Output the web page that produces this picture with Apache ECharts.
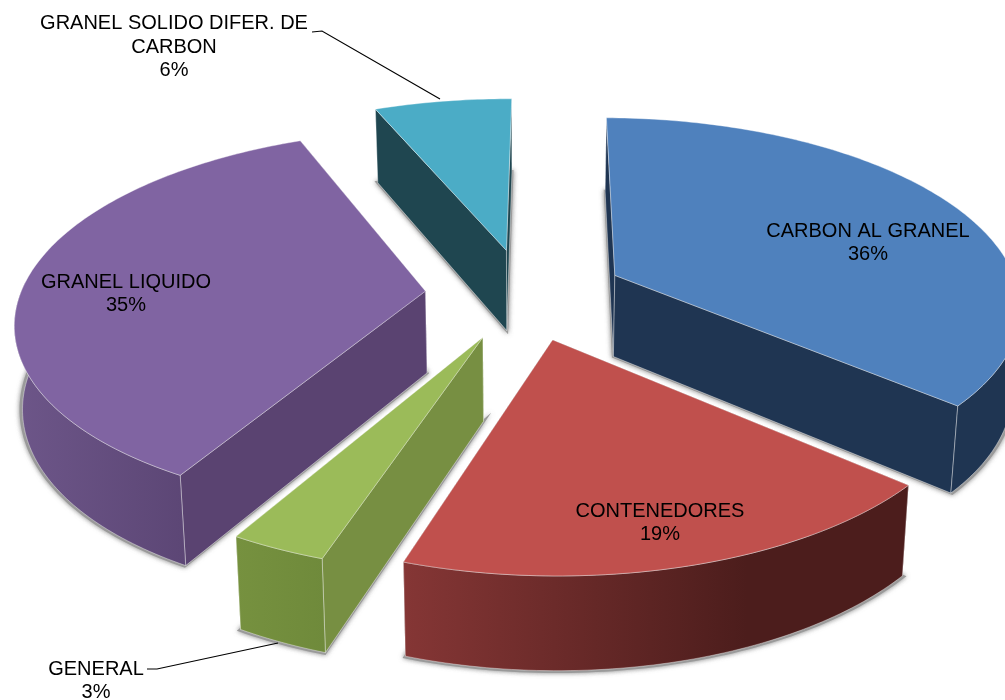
<!DOCTYPE html>
<html>
<head>
<meta charset="utf-8">
<style>
  html, body { margin: 0; padding: 0; background: #fff; }
  #chart { width: 1005px; height: 700px; }
</style>
<script src="https://cdn.jsdelivr.net/npm/echarts@6/dist/echarts.min.js"></script>
</head>
<body>
<div id="chart"></div>
<script>
const categories = ['CARBON AL GRANEL', 'CONTENEDORES', 'GENERAL', 'GRANEL LIQUIDO', 'GRANEL SOLIDO DIFER. DE\nCARBON']
const values = [36, 18.6, 3.2, 35.2, 6.4]

const topColors = ['#4f81bd', '#c0504d', '#9bbb59', '#8064a2', '#4bacc6']
const sideColors = ['#1f3552', '#4d1e1d', '#778f42', '#5a4371', '#1f4650']
const outerStops = [
  ['#1f3552', '#1f3552'],
  ['#853635', '#4c1d1c'],
  ['#76913f', '#6f8a3b'],
  ['#6d5689', '#5c4675'],
  ['#1f4650', '#1f4650']
]
const labelCenters = [[868, 243], [660, 523], [96, 681], [126, 294], [174, 47]]
const leaders = [null, null, [[147, 669], [157, 669], [278, 643]], null, [[312, 32], [322, 31], [440, 99]]]

// fake 3d view: flat circle seen in perspective, every slice pulled out along its mid angle
const cx = 525
const cy = 294
const radiusX = 405
const radiusY = 186
const persp = 0.148
const explode = 0.247
const depth = 82
const startAngle = -89.5
const drawOrder = [4, 0, 3, 1, 2]

const total = values.reduce((a, b) => a + b, 0)
const toRad = d => d * Math.PI / 180

const project = (x, y, h, grow) => {
  const s = 1 / (1 - persp * y)
  const shrink = 1 - 0.016 * h
  const g = grow || 1
  return [
    cx + radiusX * x * s * shrink * g,
    cy + radiusY * y * s * (1 - 0.02 * h) * g + depth * h * s
  ]
}

const sliceAngles = index => {
  let from = startAngle
  for (let i = 0; i < index; i++) from += values[i] / total * 360
  return [from, from + values[index] / total * 360]
}

const renderSlice = (params, api) => {
  const index = api.value(0)
  const [from, to] = sliceAngles(index)
  const mid = toRad((from + to) / 2)
  const ox = explode * Math.cos(mid)
  const oy = explode * Math.sin(mid)

  const arcAngles = []
  const steps = Math.max(4, Math.ceil(to - from))
  for (let i = 0; i <= steps; i++) arcAngles.push(toRad(from + (to - from) * i / steps))
  const arc = (h, grow) => arcAngles.map(t => project(ox + Math.cos(t), oy + Math.sin(t), h, grow))

  const apexTop = project(ox, oy, 0)
  const apexBottom = project(ox, oy, 1)
  const topArc = arc(0)
  const bottomArc = arc(1)
  const edge = { stroke: 'rgba(255,255,255,0.55)', lineWidth: 0.7, lineJoin: 'round' }
  const children = []

  // soft shadow under the slice
  children.push({
    type: 'polygon',
    shape: { points: [project(ox, oy, 1), ...arc(1, 1.003)] },
    style: {
      fill: '#9a9a9a',
      stroke: '#9a9a9a',
      lineWidth: 3,
      shadowBlur: 5,
      shadowColor: 'rgba(110,110,110,0.7)'
    }
  })

  const startWall = [apexTop, topArc[0], bottomArc[0], apexBottom]
  const endWall = [apexTop, topArc[steps], bottomArc[steps], apexBottom]
  const walls = Math.sin(toRad(from)) > Math.sin(toRad(to)) ? [endWall, startWall] : [startWall, endWall]
  walls.forEach(points => {
    children.push({
      type: 'polygon',
      shape: { points },
      style: { fill: sideColors[index], ...edge }
    })
  })

  // outer wall only where the rim faces the viewer
  const front = arcAngles.map((t, i) => (Math.sin(t) > -0.05 ? i : -1)).filter(i => i >= 0)
  if (front.length > 1) {
    const frontTop = front.map(i => topArc[i])
    const frontBottom = front.map(i => bottomArc[i])
    children.push({
      type: 'polygon',
      shape: { points: [...frontTop, ...frontBottom.reverse()] },
      style: {
        fill: new echarts.graphic.LinearGradient(0, 0, 1, 0, [
          { offset: 0, color: outerStops[index][0] },
          { offset: index === 1 ? 0.68 : 1, color: outerStops[index][1] },
          { offset: 1, color: outerStops[index][1] }
        ]),
        ...edge
      }
    })
  }

  children.push({
    type: 'polygon',
    shape: { points: [apexTop, ...topArc] },
    style: { fill: topColors[index], ...edge }
  })

  if (leaders[index]) {
    children.push({
      type: 'polyline',
      shape: { points: leaders[index] },
      style: { fill: 'none', stroke: '#000', lineWidth: 1.2 }
    })
  }

  children.push({
    type: 'text',
    x: labelCenters[index][0],
    y: labelCenters[index][1],
    style: {
      text: categories[index] + '\n' + Math.round(values[index] / total * 100) + '%',
      fill: '#000',
      font: '20px "Liberation Sans", Arial, sans-serif',
      lineHeight: 23.5,
      align: 'center',
      verticalAlign: 'middle'
    }
  })

  return { type: 'group', children }
}

const chart = echarts.init(document.getElementById('chart'))
chart.setOption({
  animation: false,
  backgroundColor: '#fff',
  series: [
    {
      type: 'custom',
      coordinateSystem: 'none',
      renderItem: renderSlice,
      silent: true,
      data: drawOrder.map(i => [i, values[i]])
    }
  ]
})
</script>
</body>
</html>
